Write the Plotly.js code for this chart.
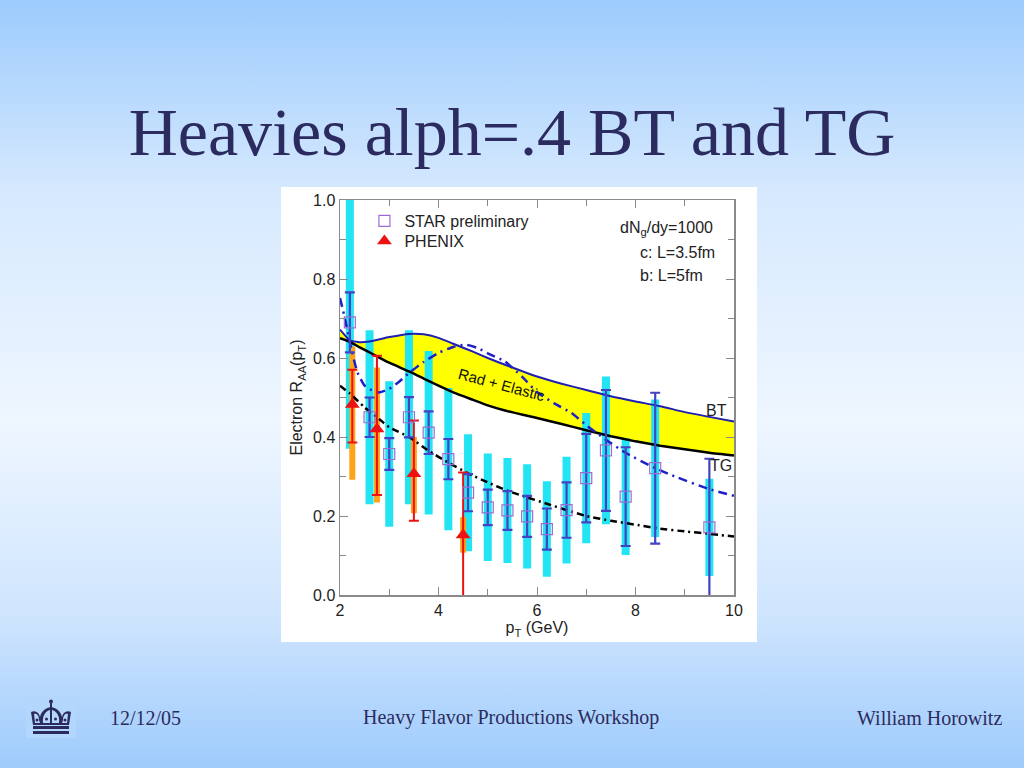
<!DOCTYPE html>
<html>
<head>
<meta charset="utf-8">
<script src="https://cdn.plot.ly/plotly-3.0.1.min.js"></script>
<style>
  html, body { margin: 0; padding: 0; }
  body {
    width: 1024px; height: 768px; overflow: hidden; position: relative;
    background: linear-gradient(to bottom, #9ccbfd 0%, #d6e9fe 25%, #eef6ff 55%, #cfe5fe 80%, #9ecbfc 100%);
  }
  #chart { position: absolute; left: 0; top: 0; width: 1024px; height: 768px; }
  #logo { position: absolute; left: 26px; top: 698px; width: 50px; height: 40px; }
</style>
</head>
<body>
<div id="chart"></div>
<svg id="logo" viewBox="0 0 50 40">
  <rect x="0" y="0" width="50" height="40" fill="#b3d7fc"/>
  <g fill="#2b2b5f" stroke="none">
    <circle cx="25" cy="3.5" r="2"/>
    <rect x="24" y="4" width="2" height="6"/>
    <path d="M7 27 L5 14 C 9 12, 13 14, 14 19 C 15 14, 19 10, 25 9 C 31 10, 35 14, 36 19 C 37 14, 41 12, 45 14 L43 27 Z"/>
  </g>
  <g fill="#b3d7fc">
    <path d="M9 25 L8 16 C 11 15, 13 18, 13 22 L14 25 Z"/>
    <path d="M41 25 L42 16 C 39 15, 37 18, 37 22 L36 25 Z"/>
    <path d="M17 25 C 16 17, 20 13, 24 12 L24 25 Z"/>
    <path d="M33 25 C 34 17, 30 13, 26 12 L26 25 Z"/>
  </g>
  <g fill="#2b2b5f">
    <circle cx="11" cy="22" r="1.5"/>
    <circle cx="39" cy="22" r="1.5"/>
    <circle cx="20.5" cy="21" r="1.5"/>
    <circle cx="29.5" cy="21" r="1.5"/>
    <rect x="7" y="28" width="36" height="3"/>
    <rect x="7" y="33" width="36" height="3"/>
  </g>
</svg>
<script>
// ---------------- data ----------------
const starPt   = [2.2, 2.6, 3.0, 3.4, 3.8, 4.2, 4.6, 5.0, 5.4, 5.8, 6.2, 6.6, 7.0, 7.4, 7.8, 8.4, 9.5];
const starR    = [0.690, 0.450, 0.357, 0.450, 0.411, 0.344, 0.259, 0.222, 0.214, 0.199, 0.167, 0.215, 0.296, 0.366, 0.249, 0.321, 0.171];
const starStat = [0.076, 0.050, 0.040, 0.051, 0.054, 0.051, 0.047, 0.045, 0.049, 0.052, 0.052, 0.070, 0.112, 0.153, 0.125, 0.191, 0.174];
const starSys  = [0.320, 0.220, 0.184, 0.220, 0.207, 0.180, 0.148, 0.136, 0.133, 0.132, 0.121, 0.135, 0.165, 0.187, 0.148, 0.174, 0.123];

const phenixPt       = [2.25, 2.75, 3.5, 4.5];
const phenixR        = [0.482, 0.420, 0.307, 0.152];
const phenixStatUp   = [0.088, 0.186, 0.135, 0.158];
const phenixStatDown = [0.096, 0.167, 0.119, 0.170];
const phenixSysUp    = [0.147, 0.156, 0.093, 0.045];
const phenixSysDown  = [0.190, 0.186, 0.100, 0.045];

const curvePt = [2.0, 2.2, 2.4, 2.6, 3.0, 3.4, 3.7, 4.0, 4.3, 4.7, 5.0, 5.35, 6.0, 6.5, 7.0, 7.5, 8.0, 8.5, 9.0, 9.5, 10.0];
const btRAA   = [0.672, 0.645, 0.640, 0.642, 0.653, 0.661, 0.660, 0.651, 0.636, 0.616, 0.600, 0.583, 0.553, 0.535, 0.519, 0.503, 0.490, 0.478, 0.463, 0.451, 0.439];
const tgRAA   = [0.650, 0.641, 0.627, 0.614, 0.588, 0.566, 0.548, 0.530, 0.513, 0.494, 0.480, 0.467, 0.448, 0.433, 0.417, 0.402, 0.389, 0.378, 0.369, 0.360, 0.353];

const dashBluePt  = [2.0, 2.1, 2.2, 2.35, 2.5, 2.7, 2.8, 3.0, 3.2, 3.4, 3.7, 4.0, 4.3, 4.55, 4.8, 5.0, 5.35, 5.7, 6.0, 6.35, 6.7, 7.0, 7.4, 7.8, 8.3, 8.8, 9.5, 10.0];
const dashBlueR   = [0.752, 0.700, 0.640, 0.565, 0.530, 0.515, 0.513, 0.522, 0.540, 0.562, 0.590, 0.613, 0.628, 0.634, 0.625, 0.612, 0.591, 0.552, 0.514, 0.485, 0.461, 0.430, 0.393, 0.360, 0.327, 0.300, 0.268, 0.251];

const dashBlackPt = [2.0, 2.2, 2.5, 2.8, 3.0, 3.4, 3.8, 4.2, 4.6, 5.0, 5.4, 5.8, 6.2, 6.6, 7.0, 7.5, 8.0, 8.5, 9.0, 9.5, 10.0];
const dashBlackR  = [0.530, 0.510, 0.475, 0.445, 0.425, 0.400, 0.365, 0.335, 0.308, 0.285, 0.264, 0.247, 0.231, 0.215, 0.200, 0.188, 0.178, 0.168, 0.161, 0.155, 0.148];

const xTickVals = [2, 4, 6, 8, 10];
const xTickText = ['2', '4', '6', '8', '10'];
const yTickVals = [0, 0.2, 0.4, 0.6, 0.8, 1.0];
const yTickText = ['0.0', '0.2', '0.4', '0.6', '0.8', '1.0'];

// ---------------- traces ----------------
const none = 'rgba(0,0,0,0)';
const smooth = { shape: 'spline', smoothing: 0.5 };
const traces = [
  { x: curvePt, y: tgRAA, mode: 'lines', line: { width: 0, color: none }, showlegend: false, hoverinfo: 'skip' },
  { x: curvePt, y: btRAA, mode: 'lines', line: { width: 0, color: none }, fill: 'tonexty', fillcolor: '#ffff00', showlegend: false, hoverinfo: 'skip' },
  { x: starPt, y: starR, mode: 'markers', marker: { size: 1, color: none }, showlegend: false,
    error_y: { type: 'data', array: starSys, visible: true, color: '#22e4f2', thickness: 8, width: 0 } },
  { x: phenixPt, y: phenixR, mode: 'markers', marker: { size: 1, color: none }, showlegend: false,
    error_y: { type: 'data', symmetric: false, array: phenixSysUp, arrayminus: phenixSysDown, visible: true, color: '#ffa31a', thickness: 6, width: 0 } },
  { x: curvePt, y: tgRAA, mode: 'lines', line: Object.assign({ color: '#000000', width: 2.5 }, smooth), showlegend: false },
  { x: curvePt, y: btRAA, mode: 'lines', line: Object.assign({ color: '#1f1fb4', width: 2 }, smooth), showlegend: false },
  { x: dashBluePt, y: dashBlueR, mode: 'lines', line: Object.assign({ color: '#1f1fc8', width: 2.5, dash: '9px,5px,2px,5px' }, smooth), showlegend: false },
  { x: dashBlackPt, y: dashBlackR, mode: 'lines', line: Object.assign({ color: '#000000', width: 2.5, dash: '7px,4px,2px,4px' }, smooth), showlegend: false },
  { x: phenixPt, y: phenixR, mode: 'markers', name: 'PHENIX', legend: 'legend2',
    marker: { symbol: 'triangle-up', size: 13, color: '#ee1111' },
    error_y: { type: 'data', symmetric: false, array: phenixStatUp, arrayminus: phenixStatDown, visible: true, color: '#ee1111', thickness: 2, width: 5 } },
  { x: starPt, y: starR, mode: 'markers', name: 'STAR preliminary', legend: 'legend',
    marker: { symbol: 'square-open', size: 11, color: '#9a6cd2', line: { width: 1.2 } },
    error_y: { type: 'data', array: starStat, visible: true, color: '#4343c4', thickness: 2.2, width: 5 } }
];

const ink = '#2b2b5f';
const axisFont = { family: 'Liberation Sans, Arial, sans-serif', size: 16, color: '#222222' };
const serif = 'Liberation Serif, Times New Roman, serif';

const layout = {
  width: 1024, height: 768,
  margin: { l: 340, r: 290, t: 200, b: 173 },
  paper_bgcolor: none, plot_bgcolor: none,
  title: { text: 'Heavies alph=.4 BT and TG', font: { family: serif, size: 68, color: ink },
           x: 0.5, xanchor: 'center', xref: 'container', yref: 'container', y: 1 - 131 / 768, yanchor: 'middle' },
  showlegend: true,
  legend: { x: 0.062, y: 0.9468, xanchor: 'left', yanchor: 'middle', bgcolor: none, borderwidth: 0,
            font: axisFont, itemclick: false },
  legend2: { x: 0.062, y: 0.8962, xanchor: 'left', yanchor: 'middle', bgcolor: none, borderwidth: 0,
             font: axisFont, itemclick: false },
  xaxis: {
    range: [2, 10], tickvals: xTickVals, ticktext: xTickText, ticks: 'inside', ticklen: 8, tickcolor: '#888888',
    minor: { dtick: 1, ticks: 'inside', ticklen: 6, tickcolor: '#888888' },
    showline: true, linecolor: '#8a8a8a', linewidth: 1.5, mirror: 'ticks', showgrid: false, zeroline: false,
    tickfont: axisFont,
    title: { text: 'p<sub>T</sub> (GeV)', font: axisFont, standoff: 4 }
  },
  yaxis: {
    range: [0, 1.0], tickvals: yTickVals, ticktext: yTickText, ticks: 'inside', ticklen: 8, tickcolor: '#888888',
    minor: { dtick: 0.1, ticks: 'inside', ticklen: 6, tickcolor: '#888888' },
    showline: true, linecolor: '#8a8a8a', linewidth: 1.5, mirror: 'ticks', showgrid: false, zeroline: false,
    tickfont: axisFont,
    title: { text: 'Electron R<sub>AA</sub>(p<sub>T</sub>)', font: axisFont, standoff: 6 }
  },
  shapes: [
    { type: 'rect', xref: 'paper', yref: 'paper', x0: -0.1497, x1: 1.0584, y0: -0.119, y1: 1.0329,
      fillcolor: '#ffffff', line: { width: 0 }, layer: 'below' }
  ],
  annotations: [
    { xref: 'paper', yref: 'paper', x: 0.7057, y: 0.929, xanchor: 'left', yanchor: 'middle', showarrow: false,
      text: 'dN<sub>g</sub>/dy=1000', font: axisFont },
    { xref: 'paper', yref: 'paper', x: 0.756, y: 0.868, xanchor: 'left', yanchor: 'middle', showarrow: false,
      text: 'c: L=3.5fm', font: axisFont },
    { xref: 'paper', yref: 'paper', x: 0.756, y: 0.808, xanchor: 'left', yanchor: 'middle', showarrow: false,
      text: 'b: L=5fm', font: axisFont },
    { x: 5.27, y: 0.532, showarrow: false, text: 'Rad + Elastic', textangle: 15,
      font: { family: 'Liberation Sans, Arial, sans-serif', size: 15, color: '#111111' } },
    { x: 9.65, y: 0.466, showarrow: false, text: 'BT', font: axisFont },
    { x: 9.74, y: 0.327, showarrow: false, text: 'TG', font: axisFont },
    { xref: 'paper', yref: 'paper', x: -0.5888, y: -0.311, xanchor: 'left', yanchor: 'middle', showarrow: false,
      text: '12/12/05', font: { family: serif, size: 20, color: ink } },
    { xref: 'paper', yref: 'paper', x: 0.434, y: -0.311, xanchor: 'center', yanchor: 'middle', showarrow: false,
      text: 'Heavy Flavor Productions Workshop', font: { family: serif, size: 20, color: ink } },
    { xref: 'paper', yref: 'paper', x: 1.685, y: -0.311, xanchor: 'right', yanchor: 'middle', showarrow: false,
      text: 'William Horowitz', font: { family: serif, size: 20, color: ink } }
  ]
};

Plotly.newPlot('chart', traces, layout, { staticPlot: true, displayModeBar: false });
</script>
</body>
</html>
